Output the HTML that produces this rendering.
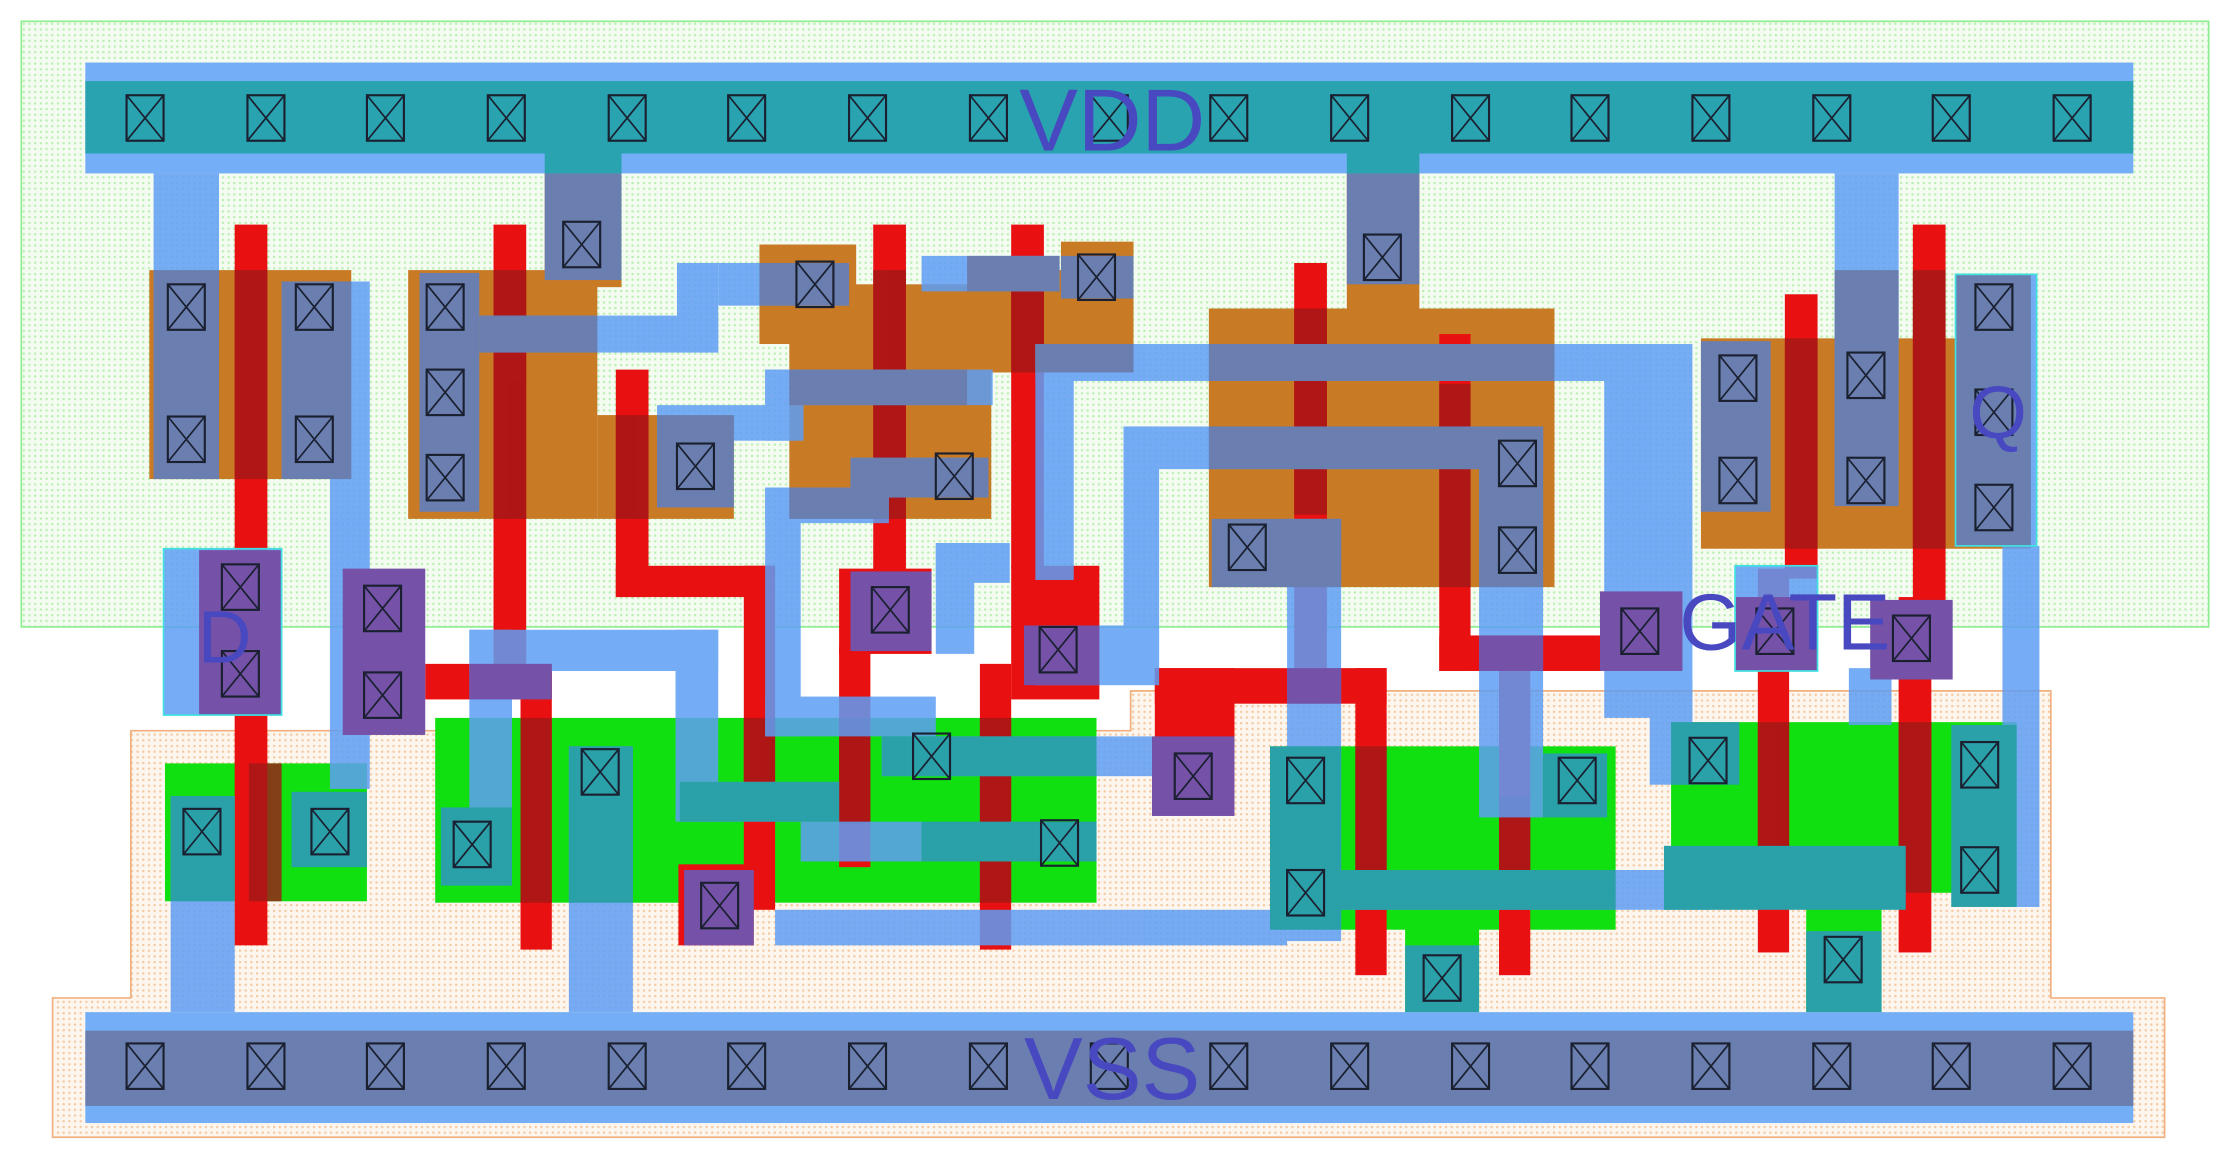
<!DOCTYPE html>
<html><head><meta charset="utf-8"><style>html,body{margin:0;padding:0;background:#fff}svg{display:block}</style></head>
<body>
<svg width="2230" height="1160" viewBox="0 0 1568 816" preserveAspectRatio="none" xmlns="http://www.w3.org/2000/svg">
<defs>
<g id="c"><rect x="-13" y="-16" width="26" height="32" fill="none" stroke="#1a2030" stroke-width="1.5"/><path d="M-13,-16L13,16M13,-16L-13,16" stroke="#1a2030" stroke-width="1.2"/></g>
<pattern id="gd" width="4" height="4" patternUnits="userSpaceOnUse"><rect width="4" height="4" fill="#f4fcf2"/><rect width="1.5" height="1.5" fill="#b8eeb0"/></pattern>
<pattern id="od" width="4" height="4" patternUnits="userSpaceOnUse"><rect width="4" height="4" fill="#fdf6ee"/><rect width="1.5" height="1.5" fill="#f3c8a0"/></pattern>
</defs>
<rect width="1568" height="816" fill="#fff"/>
<rect x="15" y="15" width="1538" height="426" fill="url(#gd)" stroke="#90ee90" stroke-width="1.2"/>
<polygon points="37,702 92,702 92,514 795,514 795,486 1442,486 1442,702 1522,702 1522,800 37,800" fill="url(#od)" stroke="#f0b080" stroke-width="1.2"/>

<!-- p diffusion -->
<g fill="#c87a25">
<rect x="105" y="190" width="142" height="147"/>
<rect x="287" y="190" width="133" height="175"/><rect x="420" y="292" width="96" height="73"/><rect x="383" y="112" width="54" height="90"/>
<rect x="534" y="172" width="68" height="70"/><rect x="555" y="200" width="142" height="165"/><rect x="680" y="190" width="117" height="72"/><rect x="746" y="170" width="51" height="25"/>
<rect x="850" y="217" width="243" height="196"/><rect x="947" y="112" width="51" height="110"/>
<rect x="1196" y="238" width="232" height="148"/>
</g>
<!-- n diffusion -->
<g fill="#10e010">
<rect x="116" y="537" width="142" height="97"/>
<rect x="306" y="505" width="465" height="130"/>
<rect x="893" y="525" width="243" height="129"/><rect x="988" y="640" width="52" height="72"/>
<rect x="1175" y="508" width="243" height="120"/><rect x="1270" y="620" width="53" height="92"/>
</g>
<!-- poly -->
<g fill="#e81010">
<rect x="165" y="158" width="23" height="507"/>
<rect x="347" y="158" width="23" height="322"/><rect x="299" y="467" width="89" height="25"/><rect x="366" y="470" width="22" height="198"/>
<rect x="433" y="260" width="23" height="160"/><rect x="433" y="398" width="112" height="22"/><rect x="523" y="398" width="22" height="242"/><rect x="477" y="608" width="53" height="57"/>
<rect x="614" y="158" width="23" height="245"/><rect x="590" y="400" width="65" height="60"/><rect x="590" y="455" width="22" height="155"/>
<rect x="711" y="158" width="23" height="242"/><rect x="711" y="398" width="62" height="94"/><rect x="689" y="467" width="22" height="201"/>
<rect x="910" y="185" width="23" height="310"/><rect x="812" y="470" width="163" height="25"/><rect x="812" y="470" width="56" height="50"/><rect x="953" y="470" width="22" height="216"/>
<rect x="1012" y="235" width="22" height="237"/><rect x="1012" y="447" width="140" height="25"/><rect x="1054" y="470" width="22" height="216"/>
<rect x="1255" y="207" width="23" height="200"/><rect x="1236" y="400" width="22" height="270"/>
<rect x="1345" y="158" width="23" height="265"/><rect x="1335" y="420" width="23" height="250"/>
</g>
<!-- gate hatch areas -->
<g fill="#a01818" opacity="0.8">
<rect x="165" y="190" width="23" height="147"/><rect x="175" y="537" width="23" height="97"/>
<rect x="347" y="190" width="23" height="175"/><rect x="433" y="292" width="23" height="73"/><rect x="366" y="505" width="22" height="130"/>
<rect x="614" y="190" width="23" height="175"/><rect x="711" y="190" width="23" height="72"/><rect x="523" y="505" width="22" height="45"/><rect x="590" y="505" width="22" height="75"/><rect x="689" y="505" width="22" height="130"/>
<rect x="910" y="217" width="23" height="145"/><rect x="1012" y="270" width="22" height="143"/><rect x="953" y="525" width="22" height="100"/><rect x="1054" y="560" width="22" height="60"/>
<rect x="1255" y="238" width="23" height="148"/><rect x="1345" y="190" width="23" height="196"/><rect x="1236" y="508" width="22" height="120"/><rect x="1335" y="508" width="23" height="120"/>
</g>

<!-- metal1 -->
<g fill="#5e9ef5" opacity="0.85">
<rect x="108" y="122" width="46" height="80"/>
<rect x="232" y="198" width="28" height="357"/>
<rect x="115" y="386" width="83" height="117"/>
<rect x="120" y="560" width="45" height="152"/>
<rect x="337" y="222" width="168" height="26"/><rect x="476" y="185" width="29" height="63"/><rect x="505" y="185" width="92" height="30"/>
<rect x="648" y="180" width="97" height="25"/>
<rect x="462" y="285" width="103" height="25"/><rect x="538" y="260" width="22" height="50"/><rect x="538" y="260" width="160" height="25"/>
<rect x="538" y="343" width="87" height="25"/><rect x="538" y="343" width="25" height="175"/><rect x="538" y="490" width="120" height="28"/>
<rect x="598" y="322" width="97" height="28"/>
<rect x="330" y="443" width="175" height="29"/><rect x="330" y="443" width="30" height="150"/><rect x="475" y="443" width="30" height="135"/><rect x="478" y="550" width="112" height="28"/>
<rect x="400" y="525" width="45" height="187"/>
<rect x="563" y="578" width="85" height="28"/><rect x="620" y="518" width="190" height="28"/>
<rect x="658" y="382" width="52" height="28"/><rect x="658" y="382" width="27" height="78"/>
<rect x="728" y="242" width="402" height="26"/><rect x="728" y="242" width="27" height="166"/><rect x="728" y="440" width="87" height="42"/>
<rect x="790" y="300" width="295" height="30"/><rect x="790" y="300" width="25" height="170"/>
<rect x="545" y="640" width="360" height="25"/><rect x="905" y="365" width="38" height="297"/>
<rect x="893" y="612" width="310" height="28"/>
<rect x="1040" y="300" width="45" height="275"/>
<rect x="1128" y="242" width="62" height="263"/><rect x="1160" y="480" width="30" height="72"/>
<rect x="1290" y="122" width="45" height="234"/>
<rect x="1375" y="193" width="57" height="191"/><rect x="1408" y="384" width="26" height="254"/>
<rect x="1220" y="398" width="58" height="74"/>
<rect x="1300" y="470" width="30" height="40"/>
</g>
<!-- metal over pdiff (slate) -->
<g fill="#6a7fb0">
<rect x="108" y="190" width="46" height="147"/><rect x="198" y="198" width="49" height="139"/>
<rect x="295" y="192" width="42" height="168"/><rect x="383" y="122" width="54" height="75"/><rect x="462" y="292" width="54" height="65"/><rect x="337" y="222" width="83" height="26"/>
<rect x="534" y="185" width="63" height="30"/><rect x="555" y="260" width="125" height="25"/><rect x="555" y="343" width="70" height="22"/><rect x="598" y="322" width="97" height="28"/><rect x="680" y="180" width="65" height="25"/><rect x="746" y="180" width="51" height="30"/><rect x="728" y="242" width="69" height="20"/>
<rect x="947" y="122" width="51" height="78"/><rect x="852" y="365" width="91" height="48"/><rect x="850" y="300" width="235" height="30"/><rect x="850" y="242" width="243" height="26"/><rect x="1040" y="300" width="45" height="113"/>
<rect x="1196" y="240" width="49" height="120"/><rect x="1290" y="190" width="45" height="166"/><rect x="1375" y="193" width="53" height="191"/>
</g>
<!-- metal over ndiff (teal) -->
<g fill="#2aa0a8">
<rect x="120" y="560" width="45" height="74"/><rect x="205" y="557" width="53" height="53"/>
<rect x="310" y="568" width="50" height="55"/><rect x="400" y="525" width="45" height="110"/><rect x="478" y="550" width="112" height="28"/>
<rect x="620" y="518" width="151" height="28"/><rect x="648" y="578" width="123" height="28"/>
<rect x="893" y="525" width="50" height="129"/><rect x="893" y="612" width="243" height="28"/><rect x="1085" y="530" width="45" height="45"/><rect x="988" y="665" width="52" height="47"/>
<rect x="1175" y="508" width="48" height="44"/><rect x="1170" y="595" width="170" height="45"/><rect x="1372" y="510" width="46" height="128"/><rect x="1270" y="655" width="53" height="57"/>
</g>
<!-- poly contacts (purple) -->
<g fill="#7552a8">
<rect x="140" y="387" width="58" height="116"/>
<rect x="241" y="400" width="58" height="117"/>
<rect x="330" y="467" width="58" height="25"/>
<rect x="481" y="612" width="49" height="53"/>
<rect x="598" y="402" width="57" height="56"/>
<rect x="720" y="440" width="53" height="42"/>
<rect x="810" y="518" width="58" height="56"/>
<rect x="1125" y="416" width="58" height="56"/>
<rect x="1220" y="420" width="58" height="52"/>
<rect x="1315" y="422" width="58" height="56"/>
<rect x="1040" y="447" width="45" height="25"/>
<rect x="905" y="470" width="38" height="25"/>
</g>
<g fill="none" stroke="#40e0e0" stroke-width="1.2">
<rect x="115" y="386" width="83" height="117"/><rect x="1220" y="398" width="58" height="74"/><rect x="1375" y="193" width="57" height="191"/>
</g>

<!-- rails -->
<rect x="60" y="44" width="1440" height="78" fill="#74aef7"/>
<rect x="60" y="57" width="1440" height="51" fill="#2aa3b0"/>
<rect x="383" y="108" width="54" height="14" fill="#2aa3b0"/><rect x="947" y="108" width="51" height="14" fill="#2aa3b0"/>
<rect x="60" y="712" width="1440" height="78" fill="#74aef7"/>
<rect x="60" y="725" width="1440" height="53" fill="#6a7fb0"/>

<!-- contacts -->
<g>
<use href="#c" x="102" y="83"/><use href="#c" x="187" y="83"/><use href="#c" x="271" y="83"/><use href="#c" x="356" y="83"/><use href="#c" x="441" y="83"/><use href="#c" x="525" y="83"/><use href="#c" x="610" y="83"/><use href="#c" x="695" y="83"/><use href="#c" x="780" y="83"/><use href="#c" x="864" y="83"/><use href="#c" x="949" y="83"/><use href="#c" x="1034" y="83"/><use href="#c" x="1118" y="83"/><use href="#c" x="1203" y="83"/><use href="#c" x="1288" y="83"/><use href="#c" x="1372" y="83"/><use href="#c" x="1457" y="83"/>
<use href="#c" x="102" y="750"/><use href="#c" x="187" y="750"/><use href="#c" x="271" y="750"/><use href="#c" x="356" y="750"/><use href="#c" x="441" y="750"/><use href="#c" x="525" y="750"/><use href="#c" x="610" y="750"/><use href="#c" x="695" y="750"/><use href="#c" x="780" y="750"/><use href="#c" x="864" y="750"/><use href="#c" x="949" y="750"/><use href="#c" x="1034" y="750"/><use href="#c" x="1118" y="750"/><use href="#c" x="1203" y="750"/><use href="#c" x="1288" y="750"/><use href="#c" x="1372" y="750"/><use href="#c" x="1457" y="750"/>
<use href="#c" x="131" y="216"/><use href="#c" x="131" y="309"/><use href="#c" x="221" y="216"/><use href="#c" x="221" y="309"/>
<use href="#c" x="313" y="216"/><use href="#c" x="313" y="276"/><use href="#c" x="313" y="336"/><use href="#c" x="409" y="172"/><use href="#c" x="489" y="328"/>
<use href="#c" x="573" y="200"/><use href="#c" x="771" y="195"/><use href="#c" x="671" y="335"/>
<use href="#c" x="972" y="181"/><use href="#c" x="877" y="385"/><use href="#c" x="1067" y="326"/><use href="#c" x="1067" y="387"/>
<use href="#c" x="1222" y="266"/><use href="#c" x="1222" y="338"/><use href="#c" x="1312" y="264"/><use href="#c" x="1312" y="338"/><use href="#c" x="1402" y="216"/><use href="#c" x="1402" y="290"/><use href="#c" x="1402" y="357"/>
<use href="#c" x="169" y="413"/><use href="#c" x="169" y="474"/><use href="#c" x="269" y="428"/><use href="#c" x="269" y="489"/>
<use href="#c" x="626" y="429"/><use href="#c" x="744" y="457"/><use href="#c" x="506" y="637"/><use href="#c" x="839" y="546"/>
<use href="#c" x="1153" y="444"/><use href="#c" x="1248" y="444"/><use href="#c" x="1344" y="449"/>
<use href="#c" x="142" y="585"/><use href="#c" x="232" y="585"/><use href="#c" x="332" y="594"/><use href="#c" x="422" y="543"/><use href="#c" x="655" y="532"/><use href="#c" x="745" y="593"/>
<use href="#c" x="918" y="549"/><use href="#c" x="918" y="628"/><use href="#c" x="1109" y="549"/><use href="#c" x="1014" y="688"/>
<use href="#c" x="1201" y="535"/><use href="#c" x="1392" y="538"/><use href="#c" x="1392" y="612"/><use href="#c" x="1296" y="675"/>
</g>

<!-- labels -->
<g font-family="Liberation Sans, sans-serif" fill="#4848c0">
<text x="782" y="106" font-size="62" text-anchor="middle">VDD</text>
<text x="782" y="773" font-size="62" text-anchor="middle">VSS</text>
<text x="158" y="466" font-size="52" text-anchor="middle">D</text>
<text x="1405" y="308" font-size="52" text-anchor="middle">Q</text>
<text x="1255" y="457" font-size="56" text-anchor="middle">GATE</text>
</g>
</svg>
</body></html>
